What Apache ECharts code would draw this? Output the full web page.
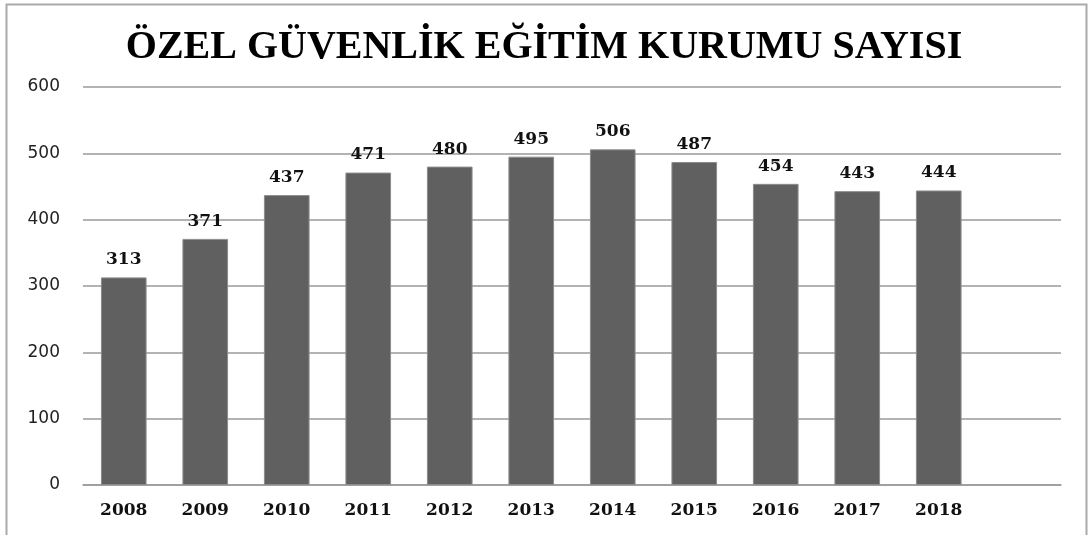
<!DOCTYPE html>
<html>
<head>
<meta charset="utf-8">
<script src="https://cdn.jsdelivr.net/npm/echarts@6/dist/echarts.min.js"></script>
<style>
	html, body { margin: 0; padding: 0; background: #fff; }
	#chart { width: 1088px; height: 535px; }
</style>
</head>
<body>
<div id="chart"></div>
<script>
// yillar (son kategori bos, Excel grafigindeki gibi)
const years = ['2008', '2009', '2010', '2011', '2012', '2013', '2014', '2015', '2016', '2017', '2018', ''];
// kurum sayisi
const kurumSayisi = [313, 371, 437, 471, 480, 495, 506, 487, 454, 443, 444];
const yTicks = { min: 0, max: 600, interval: 100 };

const myChart = echarts.init(document.getElementById('chart'));

let option = {
	backgroundColor: '#fff',
	animation: false,
	title: {
		text: 'ÖZEL GÜVENLİK EĞİTİM KURUMU SAYISI',
		left: 'center',
		top: 23,
		textStyle: {
			fontFamily: 'Liberation Serif',
			fontWeight: 'bold',
			fontSize: 40,
			color: '#000'
		}
	},
	graphic: [{
		type: 'rect',
		shape: { x: 6.5, y: 4.5, width: 1080, height: 600 },
		style: { fill: 'none', stroke: '#aaaaaa', lineWidth: 2 },
		silent: true
	}],
	grid: {
		left: 83,
		right: 27,
		top: 87,
		bottom: 50
	},
	xAxis: {
		type: 'category',
		data: years,
		axisTick: { show: false },
		axisLine: { show: true, lineStyle: { color: '#9a9a9a', width: 1.5 } },
		axisLabel: {
			margin: 17,
			fontFamily: 'DejaVu Serif',
			fontWeight: 'bold',
			fontSize: 17,
			color: '#111'
		}
	},
	yAxis: {
		type: 'value',
		min: yTicks.min,
		max: yTicks.max,
		interval: yTicks.interval,
		axisLine: { show: false },
		axisTick: { show: false },
		splitLine: { lineStyle: { color: '#9a9a9a', width: 1.5 } },
		axisLabel: {
			margin: 23,
			fontFamily: 'DejaVu Sans',
			fontSize: 17,
			color: '#222'
		}
	},
	series: [{
		name: 'Kurum Sayısı',
		type: 'bar',
		data: kurumSayisi,
		barWidth: '56%',
		itemStyle: {
			color: '#606060',
			borderColor: '#8c8c8c',
			borderWidth: 1
		},
		label: {
			show: true,
			position: 'top',
			distance: 9,
			fontFamily: 'DejaVu Serif',
			fontWeight: 'bold',
			fontSize: 17,
			color: '#111'
		}
	}]
};

myChart.setOption(option);
</script>
</body>
</html>
